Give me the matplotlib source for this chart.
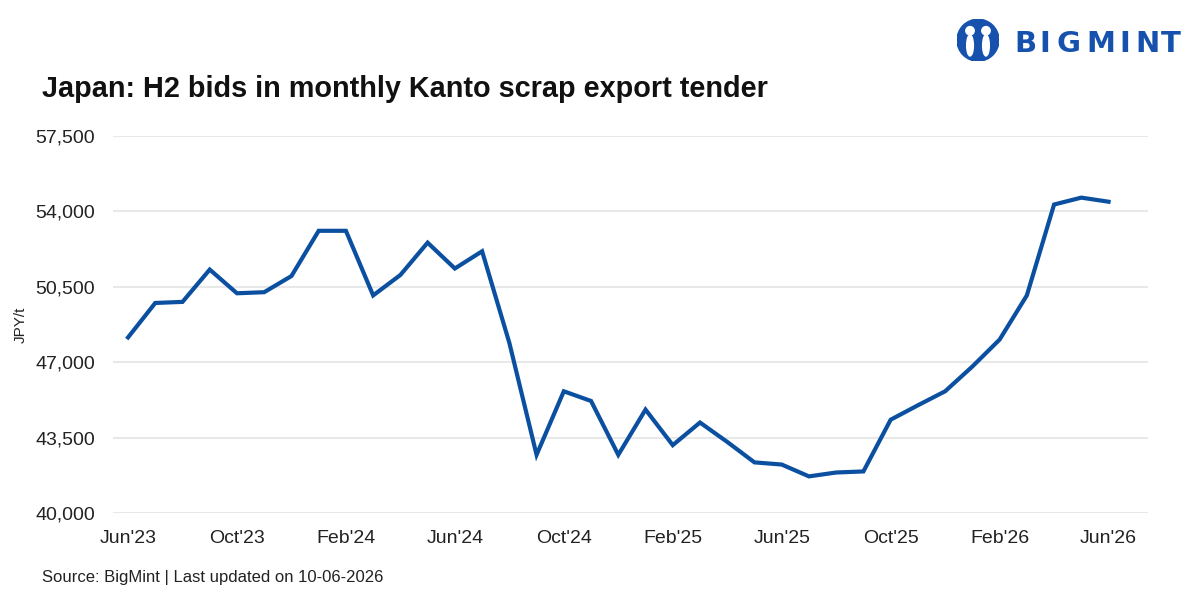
import matplotlib
matplotlib.use("Agg")
import matplotlib.pyplot as plt
from matplotlib.patches import Circle, Ellipse

months = ["Jun'23", "Jul'23", "Aug'23", "Sep'23", "Oct'23", "Nov'23", "Dec'23",
          "Jan'24", "Feb'24", "Mar'24", "Apr'24", "May'24", "Jun'24", "Jul'24",
          "Aug'24", "Sep'24", "Oct'24", "Nov'24", "Dec'24", "Jan'25", "Feb'25",
          "Mar'25", "Apr'25", "May'25", "Jun'25", "Jul'25", "Aug'25", "Sep'25",
          "Oct'25", "Nov'25", "Dec'25", "Jan'26", "Feb'26", "Mar'26", "Apr'26",
          "May'26", "Jun'26"]
h2_bids = [48150, 49750, 49800, 51300, 50200, 50250, 51000,
           53100, 53100, 50100, 51050, 52550, 51350, 52150,
           47900, 42700, 45650, 45200, 42700, 44800, 43150,
           44200, 43300, 42350, 42250, 41700, 41880, 41930,
           44330, 45000, 45650, 46800, 48050, 50100, 54320,
           54640, 54450]
yticks = [40000, 43500, 47000, 50500, 54000, 57500]
logo_letters = ["B", "I", "G", "M", "I", "N", "T"]

plt.rcParams['font.family'] = ['Liberation Sans', 'DejaVu Sans']

fig = plt.figure(figsize=(12, 6), dpi=100)
ax = fig.add_axes([0.0942, 0.145, 0.8625, 0.6283])

x = list(range(len(months)))
ax.plot(x, h2_bids, color='#0b4fa0', linewidth=3, solid_joinstyle='miter', zorder=3)

ax.set_ylim(40000, 57500)
ax.set_yticks(yticks)
ax.set_yticklabels([f"{v:,}" for v in yticks], fontsize=14, color='#222222')
ax.set_xlim(-0.55, 37.45)
tick_idx = list(range(0, len(months), 4))
ax.set_xticks(tick_idx)
ax.set_xticklabels([months[i] for i in tick_idx], fontsize=14, color='#222222')
ax.tick_params(axis='both', length=0)
ax.tick_params(axis='y', pad=13)
ax.tick_params(axis='x', pad=12)
ax.grid(axis='y', color='#e8e8e8', linewidth=1.5)
ax.set_axisbelow(True)
for s in ax.spines.values():
    s.set_visible(False)

ax.set_ylabel("JPY/t", fontsize=11, color='#222222')
ax.yaxis.set_label_coords(-0.082, 0.5)

fig.text(0.035, 0.852, "Japan: H2 bids in monthly Kanto scrap export tender",
         fontsize=20.8, fontweight='bold', color='#111111', va='center', ha='left')
fig.text(0.035, 0.038, "Source: BigMint | Last updated on 10-06-2026",
         fontsize=12, color='#222222', va='center', ha='left')

# Logo
lax = fig.add_axes([0.7975, 0.898, 0.035, 0.07])
lax.set_xlim(-1, 1); lax.set_ylim(-1, 1); lax.set_aspect('equal'); lax.axis('off')
lax.add_patch(Circle((0, 0), 1, color='#1652ad'))
lax.add_patch(Circle((-0.38, 0.45), 0.2, color='white'))
lax.add_patch(Circle((0.38, 0.45), 0.2, color='white'))
lax.add_patch(Ellipse((-0.38, -0.25), 0.32, 1.0, color='white'))
lax.add_patch(Ellipse((0.38, -0.25), 0.32, 1.0, color='white'))
letter_px = [1025, 1045, 1068, 1101, 1125, 1147, 1171]
for ch, px in zip(logo_letters, letter_px):
    fig.text(px / 1200, 1 - 44 / 600, ch, fontsize=21, fontweight='bold',
             color='#1652ad', va='center', ha='center', family=['DejaVu Sans'])

fig.savefig("out.png", dpi=100, facecolor='white')
